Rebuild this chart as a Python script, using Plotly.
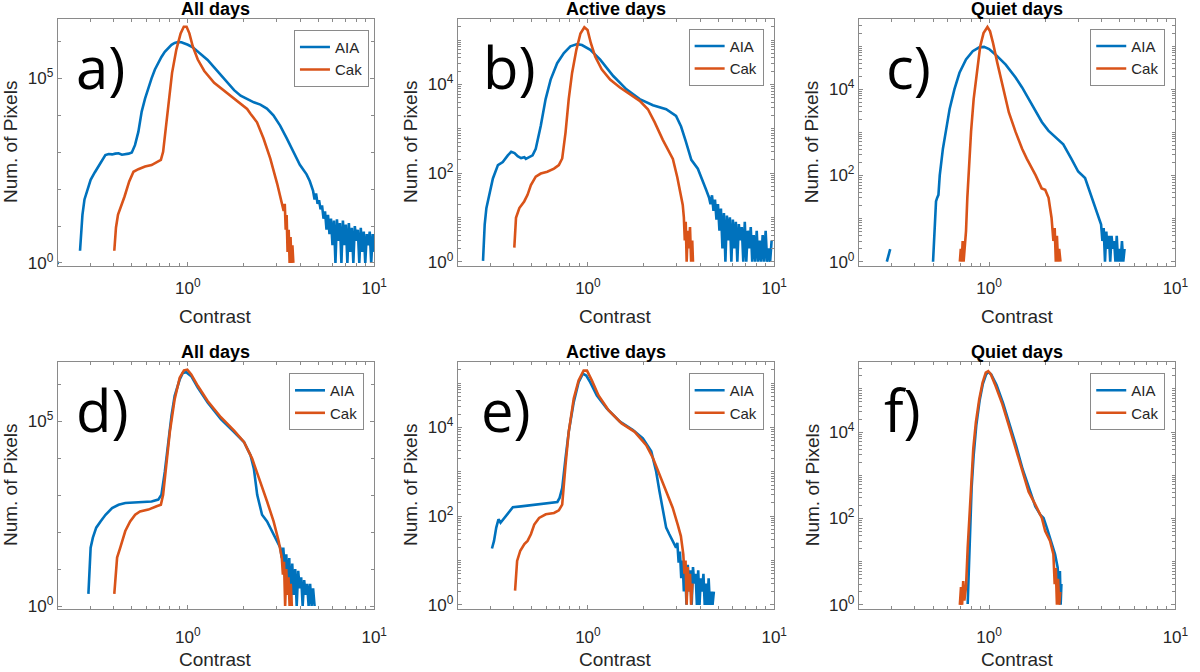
import numpy as np
import plotly.graph_objects as go

# values as log10(contrast) / log10(number of pixels)
# None marks a gap in the histogram line

# ---- a) All days, before calibration
a_aia_logc = [-0.699, -0.692, None,
              -0.579, -0.566, -0.555, -0.545, -0.533, -0.522, -0.500, -0.478, -0.455, -0.443, -0.425, -0.407,
              -0.390, -0.372, -0.354, -0.336, -0.318, -0.301, -0.284, -0.266, -0.248, -0.230, -0.213, -0.195,
              -0.177, -0.159, -0.142, -0.124, -0.106, -0.088, -0.071, -0.053, -0.035, -0.018, 0.000, 0.026,
              0.053, 0.080, 0.106, 0.141, 0.177, 0.212, 0.248, 0.283, 0.318, 0.354, 0.389, 0.424, 0.459,
              0.495, 0.530, 0.566, 0.601, 0.637, 0.654, 0.672,
              0.680, 0.688, 0.696, 0.704, 0.712, 0.720, 0.728, 0.736, 0.744, 0.752, 0.760, 0.768, 0.776,
              0.784, 0.792, 0.800, 0.808, 0.816, 0.824, 0.832, 0.840, 0.848, 0.856, 0.864, 0.872, 0.880,
              0.888, 0.896, 0.904, 0.912, 0.920, 0.928, 0.936, 0.944, 0.952, 0.960, 0.968, 0.976, 0.984,
              0.992, 0.999]
a_aia_logn = [0.0, 0.0, None,
              0.33, 1.30, 1.72, 1.88, 2.05, 2.25, 2.45, 2.62, 2.82, 2.92, 2.95, 2.94,
              2.96, 2.97, 2.93, 2.94, 2.96, 2.99, 3.19, 3.55, 4.10, 4.45, 4.75, 5.00,
              5.24, 5.42, 5.58, 5.72, 5.83, 5.91, 5.96, 5.985, 5.98, 5.955, 5.91, 5.84,
              5.73, 5.62, 5.50, 5.30, 5.10, 4.88, 4.68, 4.53, 4.43, 4.35, 4.29, 4.18, 4.00,
              3.72, 3.38, 3.02, 2.66, 2.40, 2.22, 1.95,
              1.72, 1.88, 1.60, 1.70, 1.45, 1.56, 1.20, 1.40, 0.90, 1.30, 0.78, 1.20, 0.48,
              1.15, 0.00, 1.18, 0.60, 1.08, 0.00, 1.15, 0.48, 1.04, 0.00, 1.08, 0.30, 0.95,
              0.00, 1.00, 0.60, 0.90, 0.00, 0.95, 0.30, 0.85, 0.00, 0.78, 0.48, 0.85, 0.00,
              0.78, 0.30]
a_cak_logc = [-0.395, -0.386, -0.375, -0.358, -0.340, -0.315, -0.292, -0.266, -0.230, -0.195, -0.160,
              -0.145, -0.133, -0.121, -0.103, -0.085, -0.062, -0.039, -0.022, -0.007, 0.008, 0.026,
              0.053, 0.088, 0.141, 0.212, 0.230, 0.283, 0.318, 0.336, 0.371, 0.406, 0.442, 0.479,
              0.500, 0.514,
              0.520, 0.525, 0.530, 0.535, 0.541, 0.546, 0.551, 0.556, 0.561, 0.566]
a_cak_logn = [0.33, 0.96, 1.31, 1.54, 1.80, 2.21, 2.47, 2.54, 2.61, 2.65, 2.74,
              2.79, 3.01, 3.54, 4.44, 5.15, 5.78, 6.22, 6.40, 6.40, 6.22, 5.87,
              5.51, 5.20, 4.88, 4.60, 4.53, 4.32, 4.17, 4.04, 3.81, 3.37, 2.83, 2.15,
              1.75, 1.41,
              1.60, 0.90, 1.30, 0.30, 0.90, 0.00, 0.70, 0.00, 0.48, 0.00]

# ---- b) Active days, before calibration
b_aia_logc = [-0.563, -0.554, -0.545, -0.527, -0.510, -0.483, -0.457, -0.430, -0.412, -0.394, -0.377,
              -0.359, -0.341, -0.333, -0.315, -0.297, -0.280, -0.271, -0.253, -0.227, -0.200, -0.165,
              -0.129, -0.094, -0.058, -0.032, 0.013, 0.066, 0.136, 0.207, 0.278, 0.349, 0.420, 0.473,
              0.500, 0.525, 0.555, 0.590, 0.615, 0.635, 0.650,
              0.658, 0.666, 0.674, 0.682, 0.690, 0.698, 0.706, 0.714, 0.722, 0.730, 0.738, 0.746, 0.754,
              0.762, 0.770, 0.778, 0.786, 0.794, 0.802, 0.810, 0.818, 0.826, 0.834, 0.842, 0.850, 0.858,
              0.866, 0.874, 0.882, 0.890, 0.898, 0.906, 0.914, 0.922, 0.930, 0.938, 0.946, 0.954, 0.962,
              0.970, 0.978, 0.986]
b_aia_logn = [0.02, 0.84, 1.21, 1.58, 1.88, 2.18, 2.25, 2.40, 2.48, 2.45, 2.38,
              2.34, 2.36, 2.32, 2.36, 2.40, 2.55, 2.70, 3.07, 3.67, 4.11, 4.48,
              4.71, 4.86, 4.91, 4.89, 4.78, 4.56, 4.19, 3.89, 3.67, 3.53, 3.44, 3.29,
              3.05, 2.72, 2.30, 2.10, 1.85, 1.62, 1.45,
              1.30, 1.50, 1.15, 1.40, 0.95, 1.30, 0.70, 1.20, 0.30, 1.10, 0.00, 1.04, 0.48,
              1.00, 0.00, 0.95, 0.30, 0.90, 0.00, 0.85, 0.48, 0.78, 0.00, 0.90, 0.00, 0.70,
              0.30, 0.78, 0.00, 0.60, 0.00, 0.70, 0.00, 0.48, 0.00, 0.60, 0.00, 0.70, 0.00,
              0.30, 0.00, 0.48]
b_cak_logc = [-0.395, -0.386, -0.368, -0.342, -0.324, -0.306, -0.280, -0.253, -0.218, -0.182, -0.156,
              -0.138, -0.120, -0.103, -0.085, -0.062, -0.040, -0.019, -0.002, 0.016, 0.039, 0.074,
              0.119, 0.172, 0.225, 0.278, 0.322, 0.358, 0.402, 0.437, 0.456, 0.480, 0.509,
              0.515, 0.520, 0.525, 0.530, 0.536, 0.542, 0.548, 0.554, 0.560, 0.564]
b_cak_logn = [0.32, 0.99, 1.21, 1.36, 1.51, 1.73, 1.92, 1.99, 2.03, 2.10, 2.18,
              2.33, 2.92, 3.67, 4.26, 4.78, 5.15, 5.29, 5.23, 4.93, 4.63, 4.34,
              4.11, 3.93, 3.78, 3.63, 3.44, 3.15, 2.75, 2.45, 2.32, 1.90, 1.28,
              1.00, 0.48, 0.90, 0.00, 0.70, 0.30, 0.78, 0.00, 0.48, 0.00]

# ---- c) Quiet days, before calibration
c_aia_logc = [-0.549, -0.531, None,
              -0.301, -0.292, -0.285, -0.279, -0.272, -0.265, -0.248, -0.230, -0.212, -0.186, -0.159,
              -0.124, -0.088, -0.053, -0.027, 0.000, 0.035, 0.089, 0.142, 0.177, 0.212, 0.248, 0.283,
              0.318, 0.354, 0.398, 0.441, 0.478, 0.515, 0.540, 0.569, 0.585, 0.601,
              0.608, 0.615, 0.622, 0.629, 0.636, 0.643, 0.650, 0.657, 0.664, 0.671, 0.678, 0.685, 0.692,
              0.699, 0.706, 0.713, 0.720, 0.727]
c_aia_logn = [0.00, 0.29, None,
              0.00, 0.71, 1.40, 1.48, 1.55, 2.00, 2.62, 3.08, 3.54, 4.00, 4.38,
              4.69, 4.88, 4.97, 4.98, 4.93, 4.80, 4.57, 4.27, 4.04, 3.78, 3.50, 3.24,
              3.04, 2.90, 2.72, 2.39, 2.09, 1.94, 1.63, 1.25, 1.09, 0.86,
              0.48, 0.78, 0.00, 0.70, 0.30, 0.60, 0.00, 0.60, 0.30, 0.48, 0.00, 0.60, 0.00,
              0.30, 0.00, 0.48, 0.00, 0.30]
c_cak_logc = [-0.157, -0.152, -0.147, -0.142, -0.137, -0.132, -0.127,
              -0.124, -0.117, -0.108, -0.097, -0.083, -0.065, -0.048, -0.030, -0.009, 0.005, 0.021,
              0.044, 0.071, 0.106, 0.142, 0.177, 0.202, 0.250, 0.282, 0.301, 0.319, 0.335,
              0.345, 0.352, 0.358, 0.364, 0.370, 0.376, 0.383]
c_cak_logn = [0.00, 0.30, 0.00, 0.48, 0.00, 0.30, 0.60,
              0.71, 1.48, 2.24, 3.01, 3.77, 4.46, 4.99, 5.30, 5.44, 5.34, 5.07,
              4.61, 4.08, 3.46, 3.01, 2.62, 2.39, 2.00, 1.70, 1.67, 1.48, 1.02,
              0.48, 0.78, 0.00, 0.60, 0.00, 0.30, 0.00]

# ---- d) All days, after calibration
d_aia_logc = [-0.534, -0.522, -0.510, -0.492, -0.469, -0.442, -0.407, -0.372, -0.336, -0.265, -0.195,
              -0.159, -0.142, -0.124, -0.106, -0.088, -0.071, -0.044, -0.027, -0.009, 0.018, 0.053,
              0.106, 0.177, 0.248, 0.301, 0.336, 0.354, 0.372, 0.398, 0.425, 0.451, 0.478, 0.496,
              0.504, 0.512, 0.520, 0.528, 0.536, 0.544, 0.552, 0.560, 0.568, 0.576, 0.584, 0.592, 0.600,
              0.608, 0.616, 0.624, 0.632, 0.640, 0.648, 0.656, 0.664, 0.672, 0.680]
d_aia_logn = [0.33, 1.58, 1.85, 2.12, 2.29, 2.47, 2.65, 2.74, 2.79, 2.81, 2.83,
              2.88, 3.01, 3.63, 4.44, 5.15, 5.69, 6.13, 6.31, 6.33, 6.22, 5.91,
              5.51, 5.06, 4.71, 4.44, 4.08, 3.72, 3.01, 2.47, 2.29, 2.03, 1.76, 1.58,
              1.30, 1.58, 1.00, 1.40, 0.48, 1.30, 0.00, 1.15, 0.30, 1.00, 0.00, 0.95, 0.48,
              0.78, 0.00, 0.70, 0.30, 0.60, 0.00, 0.60, 0.00, 0.48, 0.00]
d_cak_logc = [-0.395, -0.380, -0.363, -0.336, -0.310, -0.283, -0.257, -0.212, -0.168, -0.145, -0.133,
              -0.115, -0.097, -0.071, -0.044, -0.021, -0.003, 0.018, 0.053, 0.106, 0.177, 0.248,
              0.301, 0.345, 0.389, 0.425, 0.460, 0.487, 0.504,
              0.510, 0.516, 0.522, 0.528, 0.534, 0.540, 0.546, 0.552, 0.558]
d_cak_logn = [0.33, 1.31, 1.58, 2.03, 2.29, 2.47, 2.56, 2.61, 2.70, 2.74, 3.01,
              3.81, 4.71, 5.60, 6.18, 6.38, 6.40, 6.27, 5.96, 5.55, 5.11, 4.75,
              4.44, 3.99, 3.37, 2.83, 2.29, 1.76, 1.31,
              0.85, 1.20, 0.00, 1.00, 0.30, 0.78, 0.00, 0.60, 0.00]

# ---- e) Active days, after calibration
e_aia_logc = [-0.515, -0.504, -0.492, -0.480, -0.469, -0.448, -0.421, -0.403, -0.359, -0.288, -0.218,
              -0.164, -0.152, -0.138, -0.120, -0.103, -0.076, -0.050, -0.027, -0.009, 0.012, 0.048,
              0.101, 0.172, 0.242, 0.295, 0.340, 0.366, 0.384, 0.402, 0.420, 0.437, 0.455, 0.473,
              0.480, 0.487, 0.494, 0.501, 0.508, 0.515, 0.522, 0.529, 0.536, 0.543, 0.550, 0.557, 0.564,
              0.571, 0.578, 0.585, 0.592, 0.599, 0.606, 0.613, 0.620, 0.627, 0.634, 0.641, 0.648, 0.655,
              0.662, 0.669, 0.676]
e_aia_logn = [1.27, 1.44, 1.74, 1.93, 1.85, 1.96, 2.11, 2.20, 2.22, 2.26, 2.30,
              2.32, 2.41, 2.63, 3.31, 3.90, 4.57, 5.02, 5.21, 5.17, 5.02, 4.72,
              4.43, 4.13, 3.94, 3.75, 3.46, 3.01, 2.56, 2.11, 1.74, 1.59, 1.44, 1.29,
              1.40, 0.95, 1.20, 0.60, 1.00, 0.30, 0.85, 0.00, 0.90, 0.30, 0.78, 0.00, 0.85,
              0.48, 0.70, 0.00, 0.78, 0.00, 0.60, 0.30, 0.70, 0.00, 0.48, 0.00, 0.60, 0.00,
              0.30, 0.00, 0.30]
e_cak_logc = [-0.391, -0.380, -0.363, -0.341, -0.324, -0.306, -0.288, -0.262, -0.226, -0.182, -0.156,
              -0.138, -0.120, -0.103, -0.076, -0.050, -0.023, -0.005, 0.021, 0.057, 0.110, 0.181,
              0.251, 0.313, 0.349, 0.384, 0.420, 0.455, 0.482, 0.499, 0.512,
              0.518, 0.524, 0.530, 0.536, 0.542, 0.548, 0.554, 0.561]
e_cak_logn = [0.32, 0.99, 1.22, 1.37, 1.44, 1.59, 1.81, 1.96, 2.04, 2.07, 2.13,
              2.26, 3.16, 3.90, 4.65, 5.06, 5.28, 5.28, 5.06, 4.72, 4.39, 4.09,
              3.90, 3.60, 3.31, 2.93, 2.56, 2.19, 1.81, 1.55, 1.14,
              0.70, 1.00, 0.00, 0.85, 0.30, 0.70, 0.00, 0.48]

# ---- f) Quiet days, after calibration
f_aia_logc = [-0.115, -0.110, -0.103, -0.094, -0.083, -0.069, -0.051, -0.034, -0.016, -0.003, 0.011,
              0.040, 0.075, 0.110, 0.145, 0.180, 0.216, 0.248, 0.274, 0.292, 0.310, 0.336, 0.354, 0.368,
              0.372, 0.376, 0.380, 0.384, 0.388]
f_aia_logn = [0.02, 0.71, 1.71, 2.70, 3.46, 4.15, 4.73, 5.11, 5.34, 5.39, 5.34,
              5.09, 4.67, 4.19, 3.68, 3.14, 2.70, 2.28, 2.09, 2.01, 1.78, 1.40, 1.17, 0.86,
              0.60, 0.30, 0.78, 0.00, 0.48]
f_cak_logc = [-0.157, -0.151, -0.145, -0.139, -0.133, -0.128,
              -0.124, -0.115, -0.106, -0.097, -0.085, -0.071, -0.053, -0.035, -0.018, -0.005, 0.009,
              0.035, 0.071, 0.106, 0.142, 0.177, 0.212, 0.248, 0.283, 0.301, 0.327, 0.345,
              0.352, 0.358, 0.364, 0.370, 0.376, 0.382]
f_cak_logn = [0.00, 0.41, 0.00, 0.55, 0.10, 0.41,
              0.41, 1.32, 2.09, 2.85, 3.62, 4.23, 4.76, 5.15, 5.38, 5.41, 5.34,
              5.07, 4.65, 4.15, 3.62, 3.08, 2.62, 2.32, 2.01, 1.71, 1.48, 1.17,
              0.48, 0.85, 0.00, 0.60, 0.00, 0.30]

panel_labels = ["a)", "b)", "c)", "d)", "e)", "f)"]
panel_titles = ["All days", "Active days", "Quiet days", "All days", "Active days", "Quiet days"]
series_names = ["AIA", "Cak"]

x_tickvals = [1, 10]
x_ticktext = ["10<sup>0</sup>", "10<sup>1</sup>"]
y_tickvals_wide = [1, 1e5]
y_ticktext_wide = ["10<sup>0</sup>", "10<sup>5</sup>"]
y_tickvals_narrow = [1, 1e2, 1e4]
y_ticktext_narrow = ["10<sup>0</sup>", "10<sup>2</sup>", "10<sup>4</sup>"]

AIA_COLOR = "#0072BD"
CAK_COLOR = "#D95319"
FRAME = "#8a8a8a"
TXT = "#262626"
FONT = "Liberation Sans, Arial, sans-serif"

data = [
    (a_aia_logc, a_aia_logn, a_cak_logc, a_cak_logn),
    (b_aia_logc, b_aia_logn, b_cak_logc, b_cak_logn),
    (c_aia_logc, c_aia_logn, c_cak_logc, c_cak_logn),
    (d_aia_logc, d_aia_logn, d_cak_logc, d_cak_logn),
    (e_aia_logc, e_aia_logn, e_cak_logc, e_cak_logn),
    (f_aia_logc, f_aia_logn, f_cak_logc, f_cak_logn),
]

# layout of the six axes, in pixels of the 1200x672 page
W, H = 1200, 672
col_px = [(58.3, 378.3), (462.7, 782.7), (868.3, 1188.3)]
row_px = [(19.5, 268.3), (366.0, 615.0)]
row_label_standoff = [7, 13]
y_ranges = [[-0.07, 6.60], [-0.085, 5.47], [-0.088, 5.62]]
legend_px = [(373, 30), (772, 29), (1178, 29), (368, 377), (772, 377), (1178, 377)]
label_dx = [0.052, 0.075, 0.080, 0.052, 0.068, 0.073]

x_minor = [0.3, 0.4, 0.5, 0.6, 0.7, 0.8, 0.9, 2, 3, 4, 5, 6, 7, 8, 9]
y_minor_wide = [10, 100, 1000, 1e4, 1e6]
y_minor_narrow = [k * 10 ** n for n in range(0, 6) for k in range(1, 10)
                  if not (k == 1 and n in (0, 2, 4))]

fig = go.Figure()
annotations = []
for i, (ac, an, cc, cn) in enumerate(data):
    k = i + 1
    sfx = "" if k == 1 else str(k)
    r, c = divmod(i, 3)
    leg = "legend" + sfx
    for name, lc, ln, col in [(series_names[0], ac, an, AIA_COLOR), (series_names[1], cc, cn, CAK_COLOR)]:
        xs = np.power(10.0, np.array(lc, dtype=float))
        ys = np.power(10.0, np.array(ln, dtype=float))
        fig.add_trace(go.Scatter(x=xs, y=ys, mode="lines", name=name,
                                 line=dict(color=col, width=2.6),
                                 xaxis="x" + sfx, yaxis="y" + sfx, legend=leg,
                                 connectgaps=False, hoverinfo="skip"))

    x0, x1 = col_px[c]
    y0, y1 = row_px[r]
    wide = c == 0
    fig.layout["xaxis" + sfx] = dict(
        type="log", range=[np.log10(0.2), 1.0], domain=[x0 / W, x1 / W], anchor="y" + sfx,
        showline=True, linecolor=FRAME, linewidth=1, mirror="ticks", showgrid=False, zeroline=False,
        ticks="inside", ticklen=4, tickcolor=FRAME, tickmode="array",
        ticklabelstandoff=row_label_standoff[r],
        tickvals=x_tickvals, ticktext=x_ticktext, tickfont=dict(family=FONT, size=17, color=TXT),
        minor=dict(ticks="inside", ticklen=3, tickcolor=FRAME, tickmode="array", tickvals=x_minor),
    )
    fig.layout["yaxis" + sfx] = dict(
        type="log", range=y_ranges[c], domain=[1 - y1 / H, 1 - y0 / H], anchor="x" + sfx,
        showline=True, linecolor=FRAME, linewidth=1, mirror="ticks", showgrid=False, zeroline=False,
        ticks="inside", ticklen=4, tickcolor=FRAME, tickmode="array",
        tickvals=y_tickvals_wide if wide else y_tickvals_narrow,
        ticktext=y_ticktext_wide if wide else y_ticktext_narrow,
        tickfont=dict(family=FONT, size=17, color=TXT),
        minor=dict(ticks="inside", ticklen=3, tickcolor=FRAME, tickmode="array",
                   tickvals=y_minor_wide if wide else y_minor_narrow),
    )
    lx, ly = legend_px[i]
    fig.layout[leg] = dict(
        x=lx / W, y=1 - ly / H, xanchor="right", yanchor="top", xref="paper", yref="paper",
        bgcolor="white", bordercolor=FRAME, borderwidth=1,
        font=dict(family=FONT, size=15, color=TXT), tracegroupgap=0,
    )

    xd, yd = "x" + sfx + " domain", "y" + sfx + " domain"
    annotations += [
        dict(text="<b>" + panel_titles[i] + "</b>", xref=xd, yref=yd, x=0.5, y=1, yshift=10,
             xanchor="center", yanchor="middle", showarrow=False,
             font=dict(family=FONT, size=18, color="black")),
        dict(text="Contrast", xref=xd, yref=yd, x=0.5, y=0, yshift=-51,
             xanchor="center", yanchor="middle", showarrow=False,
             font=dict(family=FONT, size=19, color=TXT)),
        dict(text="Num. of Pixels", xref=xd, yref=yd, x=0, y=0.5, xshift=-47, textangle=-90,
             xanchor="center", yanchor="middle", showarrow=False,
             font=dict(family=FONT, size=19, color=TXT)),
        dict(text=panel_labels[i], xref=xd, yref=yd, x=label_dx[i], y=0.81,
             xanchor="left", yanchor="middle", showarrow=False,
             font=dict(family="Open Sans, sans-serif", size=58, color="black")),
    ]

fig.update_layout(
    width=W, height=H, margin=dict(l=0, r=0, t=0, b=0),
    paper_bgcolor="white", plot_bgcolor="white",
    annotations=annotations, showlegend=True,
)

fig.write_html("out.html", config={"displayModeBar": False},
               post_script="document.body.style.margin='0';")
